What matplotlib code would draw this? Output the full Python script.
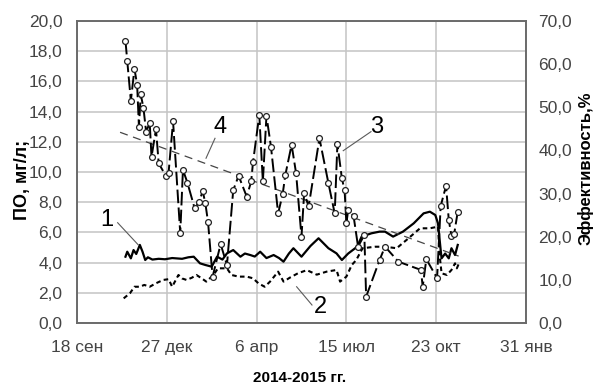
import numpy as np
import pandas as pd
import matplotlib
matplotlib.use("Agg")
import matplotlib.pyplot as plt
import matplotlib.dates as mdates

START = pd.Timestamp("2014-09-18")

# 1 - ПО (mg/l), solid line, left axis; days counted from START
po1_days = [54, 56, 60, 63, 66, 70, 73, 76, 79, 84, 91, 98, 106, 117, 124, 130, 137, 143,
            150, 156, 162, 167, 174, 182, 187, 193, 198, 204, 211, 219, 225, 230, 236,
            241, 250, 260, 269, 280, 289, 295, 302, 312, 317, 328, 337, 343, 352, 363,
            375, 386, 393, 399, 402, 405, 406, 410, 414, 417, 421, 424]
po1_vals = [4.39, 4.72, 4.28, 4.83, 4.57, 5.17, 4.72, 4.17, 4.35, 4.20, 4.25, 4.22, 4.30,
            4.25, 4.35, 4.39, 3.95, 3.84, 3.73, 4.39, 4.20, 4.61, 4.83, 4.39, 4.60, 4.50,
            4.40, 4.72, 4.30, 4.50, 4.30, 4.06, 4.60, 4.95, 4.39, 5.10, 5.61, 4.95, 4.61,
            4.17, 4.60, 5.05, 5.72, 5.94, 6.05, 6.05, 5.72, 6.05, 6.60, 7.26, 7.37, 7.15,
            6.60, 4.83, 4.28, 4.60, 4.28, 4.95, 4.50, 5.17]

# 2 - ПО (mg/l), short-dashed line, left axis
po2_days = [52, 59, 64, 70, 75, 81, 88, 96, 102, 106, 113, 117, 122, 128, 133, 139, 144,
            152, 157, 167, 172, 180, 189, 196, 202, 209, 215, 224, 230, 237, 246, 256,
            267, 278, 289, 293, 300, 306, 311, 318, 332, 343, 356, 367, 382, 393, 402,
            404, 406, 412, 417, 421, 423, 425]
po2_vals = [1.63, 1.97, 2.40, 2.40, 2.52, 2.40, 2.63, 2.85, 2.90, 2.40, 3.18, 2.95, 2.85,
            3.00, 3.18, 2.95, 2.74, 3.18, 3.62, 3.62, 3.18, 3.07, 3.07, 2.96, 2.63, 2.40,
            2.74, 3.40, 2.74, 3.00, 3.29, 3.50, 3.20, 3.40, 3.51, 2.74, 3.07, 3.84, 4.17,
            4.95, 5.05, 5.05, 4.95, 5.50, 6.27, 6.27, 6.38, 4.39, 3.29, 3.18, 3.51, 3.95,
            3.62, 3.90]

# 3 - efficiency (%), long-dashed line with markers, right axis
eff_days = [54, 56, 60, 64, 67, 69, 71, 74, 77, 81, 83, 88, 91, 99, 102, 107, 115, 118,
            123, 131, 136, 140, 143, 146, 151, 160, 167, 174, 180, 189, 194, 196, 203,
            207, 211, 216, 224, 229, 232, 239, 244, 250, 253, 258, 270, 280, 287, 290,
            295, 298, 300, 302, 308, 313, 320, 322, 337, 343, 358, 383, 385, 389, 401,
            405, 411, 414, 417, 420, 424]
eff_vals = [65.4, 60.7, 51.5, 58.9, 55.2, 45.5, 53.0, 49.9, 44.3, 46.4, 38.5, 44.9, 37.0,
            34.1, 34.8, 46.7, 20.8, 35.5, 32.5, 26.6, 28.0, 30.6, 27.7, 23.3, 10.7, 18.3,
            13.4, 30.8, 34.1, 29.3, 32.8, 37.2, 48.2, 32.8, 48.0, 40.9, 25.4, 29.8, 34.3,
            41.3, 34.7, 20.0, 30.2, 27.0, 42.8, 32.4, 25.4, 41.5, 33.5, 30.8, 23.1, 26.2,
            24.8, 17.7, 20.4, 6.1, 14.6, 17.7, 14.2, 12.3, 8.4, 14.8, 10.4, 27.1, 31.8,
            23.9, 20.2, 20.6, 25.8]

# 4 - linear trend of efficiency (%), right axis
trend_days = [48, 425]
trend_vals = [44.2, 15.5]

x_tick_dates = ["2014-09-18", "2014-12-27", "2015-04-06", "2015-07-15",
                "2015-10-23", "2016-01-31"]
x_tick_labels = ["18 сен", "27 дек", "6 апр", "15 июл", "23 окт", "31 янв"]
left_ticks = np.arange(0, 20.1, 2.0)
right_ticks = np.arange(0, 70.1, 10.0)


def to_dates(days):
    return START + pd.to_timedelta(np.asarray(days, dtype=float), unit="D")


def dnum(day):
    return mdates.date2num(START + pd.Timedelta(days=day))


FONT = ["Liberation Sans", "DejaVu Sans"]
plt.rcParams["font.family"] = FONT
TICK_COLOR = "#444444"
GRID_COLOR = "#c4c4c4"
FRAME_COLOR = "#6a6a6a"

fig = plt.figure(figsize=(5.93, 3.89), dpi=100)
ax = fig.add_axes([0.1298, 0.1697, 0.7572, 0.7764])
ax2 = ax.twinx()

# left axis series
ax.plot(to_dates(po1_days), po1_vals, color="black", lw=1.6, solid_joinstyle="round")
ax.plot(to_dates(po2_days), po2_vals, color="black", lw=1.5, linestyle=(0, (2.2, 1.6)))

# right axis series
ax2.plot(to_dates(trend_days), trend_vals, color="#454545", lw=0.9,
         linestyle=(0, (6.5, 4.5)))
ax2.plot(to_dates(eff_days), eff_vals, color="black", lw=1.4, linestyle=(0, (7, 2.2)),
         marker="o", markersize=4.2, markerfacecolor="white", markeredgecolor="#222222",
         markeredgewidth=0.9)

xmin, xmax = pd.Timestamp("2014-09-18"), pd.Timestamp("2016-01-31")
for a in (ax, ax2):
    a.set_xlim(xmin, xmax)
ax.set_ylim(0, 20)
ax2.set_ylim(0, 70)

ax.set_xticks(pd.to_datetime(x_tick_dates))
ax.set_xticklabels(x_tick_labels)
ax.set_yticks(left_ticks)
ax.set_yticklabels([f"{v:.1f}".replace(".", ",") for v in left_ticks])
ax2.set_yticks(right_ticks)
ax2.set_yticklabels([f"{v:.1f}".replace(".", ",") for v in right_ticks])

ax.grid(True, color=GRID_COLOR, lw=1.1)
ax.set_axisbelow(True)
ax.tick_params(axis="both", length=0, labelsize=12.5, colors=TICK_COLOR)
ax.tick_params(axis="x", pad=12)
ax.tick_params(axis="y", pad=10.5)
ax2.tick_params(axis="y", length=0, labelsize=12.5, colors=TICK_COLOR, pad=9)

for a in (ax, ax2):
    for s in a.spines.values():
        s.set_color(FRAME_COLOR)
        s.set_linewidth(1.2)

# axis titles
fig.text(22 / 593, 1 - 180 / 389, "ПО, мг/л;", rotation=90, ha="center", va="center",
         fontsize=13, fontweight="bold", color="black")
fig.text(586 / 593, 1 - 168 / 389, "Эффективность,%", rotation=90, ha="center",
         va="center", fontsize=12, fontweight="bold", color="black")
fig.text(300 / 593, 1 - 378 / 389, "2014-2015 гг.", ha="center", va="center",
         fontsize=11, fontweight="bold", color="black")

# series numbers with leader lines (left-axis units)
labels = [
    ("1", 33, 6.82, 45.3, 6.64, 68.3, 5.17),
    ("2", 270.6, 1.03, 244.6, 2.40, 261.7, 1.19),
    ("3", 334, 12.98, 296.5, 11.41, 327.4, 12.67),
    ("4", 159.2, 13.0, 153.7, 12.23, 143.7, 10.91),
]
for txt, tx, ty, x0, y0, x1, y1 in labels:
    ax.plot([dnum(x0), dnum(x1)], [y0, y1], color="#5a5a5a", lw=0.8, zorder=5)
    ax.text(dnum(tx), ty, txt, fontsize=17, ha="center", va="center", color="black",
            zorder=6)

fig.savefig("out.png", dpi=100)
